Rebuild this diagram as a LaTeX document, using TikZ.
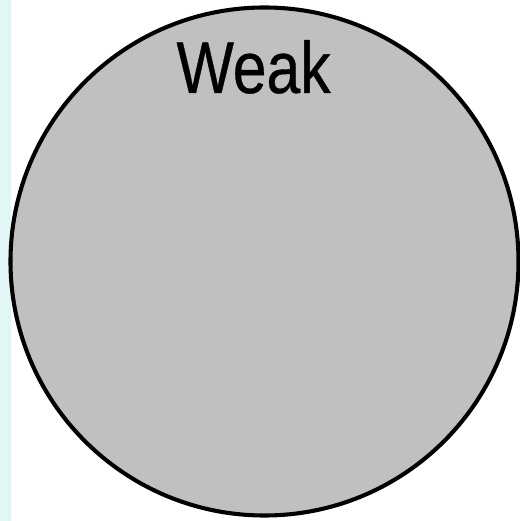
\documentclass[tikz,border=0pt]{standalone}
\usepackage{xcolor}
\usepackage{fontspec}
\setmainfont{Liberation Sans}
\newfontfamily\labelfont[FakeBold=0.6]{Liberation Sans}
\usepackage{tikz}
\usetikzlibrary{positioning}
\definecolor{mygray}{RGB}{192,192,192}
\definecolor{mystrip}{RGB}{226,246,246}
\tikzset{
  setcircle/.style={circle, draw=black, fill=mygray, line width=2.9pt,
    minimum size=12.7cm, inner sep=0pt},
  setlabel/.style={font=\labelfont\fontsize{52}{60}\selectfont, anchor=base,
    xscale=0.83, inner sep=0pt}
}
\begin{document}
\begin{tikzpicture}
  \useasboundingbox (0,0) rectangle (13,13.025);
  % Background strip on the left
  \fill[mystrip] (0,0) rectangle (0.28,13.025);

  % The set
  \node[setcircle] (weak) at (6.6125,6.4875) {};
  \node[setlabel] (weaklabel) at (6.34,10.7) {Weak};
\end{tikzpicture}
\end{document}
